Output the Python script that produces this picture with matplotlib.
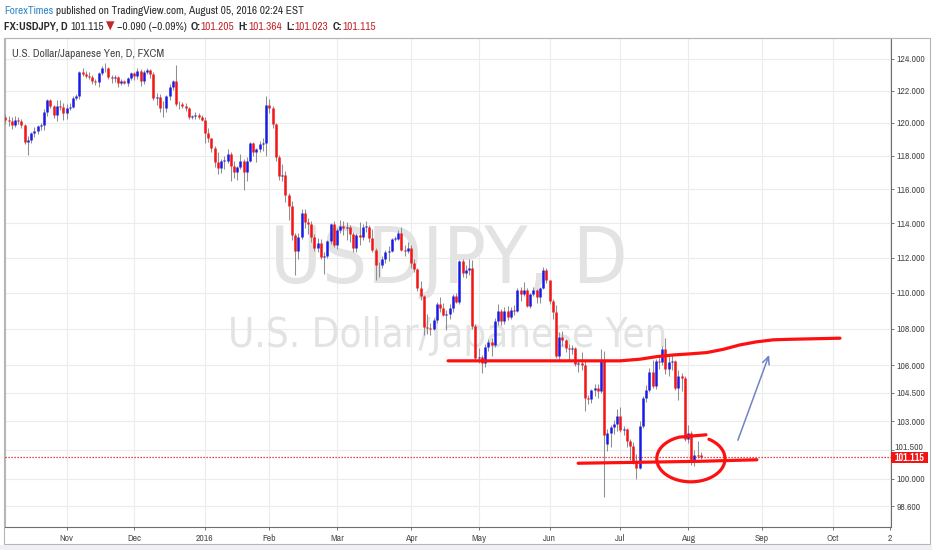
import numpy as np
import pandas as pd
import matplotlib
matplotlib.use("Agg")
import matplotlib.pyplot as plt
from matplotlib import font_manager
from matplotlib.font_manager import FontProperties
from matplotlib.textpath import TextPath
from matplotlib.patches import Rectangle
from matplotlib.ticker import FixedLocator, FixedFormatter, NullLocator
from matplotlib.transforms import blended_transform_factory, ScaledTranslation

header_1 = "published on TradingView.com, August 05, 2016 02:24 EST"

# TradingView text is narrow: pick installed regular-weight sans faces whose
# width/cap-height ratio is closest to the picture
cands = {("Liberation Sans", "normal"), ("DejaVu Sans", "normal")}
for f in font_manager.fontManager.ttflist:
    w = f.weight if isinstance(f.weight, int) else font_manager.weight_dict.get(str(f.weight), 400)
    if f.style != "normal" or w != 400:
        continue
    if "Serif" in f.name or "Mono" in f.name or "CJK" in f.name:
        continue
    if "Narrow" in f.name or "Condensed" in f.name or f.stretch in ("condensed", "semi-condensed"):
        cands.add((f.name, f.stretch))


def shape_ratio(fam, st, sample):
    fp = FontProperties(family=fam, stretch=st)
    w = TextPath((0, 0), sample, size=10, prop=fp).get_extents().width
    hc = TextPath((0, 0), "H", size=10, prop=fp).get_extents().height
    return w / hc


face, stretch = min(sorted(cands), key=lambda fs: abs(shape_ratio(*fs, "ForexTimes " + header_1) - 299 / 7.8))
# the big watermark has rounder, Arial-like letters
if ("DejaVu Sans", "condensed") in cands:
    mark_face, mark_stretch = "DejaVu Sans", "condensed"
else:
    mark_face, mark_stretch = "Liberation Sans", "normal"
plt.rcParams["font.family"] = [face, "DejaVu Sans"]
plt.rcParams["font.stretch"] = stretch

# USDJPY daily bars (FXCM), 6 Oct 2015 .. 5 Aug 2016
start_day = "2015-10-06"
no_trading = ["2015-12-25", "2016-01-01"]

opens = [
    120.35, 120.20, 120.10, 119.90, 120.20, 120.10, 119.85, 118.85, 118.95, 119.40, 119.50, 119.80, 119.85, 120.70, 121.45, 121.05, 120.50, 121.05, 121.00,
    120.60, 120.95, 121.00, 121.55, 121.70, 123.15, 123.05, 122.95, 122.85, 122.60, 122.55, 123.10, 123.40, 123.45, 122.85, 122.80, 122.85, 122.50, 122.60, 122.50, 122.80,
    123.10, 122.90, 123.25, 122.60, 123.20, 123.30, 123.05, 121.55, 121.60, 120.95, 120.90, 121.65, 122.25, 122.60, 121.20, 121.15, 121.05, 120.95, 120.35, 120.40, 120.50, 120.35,
    120.20, 119.40, 119.05, 118.50, 117.65, 117.25, 117.70, 117.70, 118.10, 117.40, 117.00, 117.30, 117.70, 117.05, 117.70, 118.75, 118.25, 118.40, 118.70, 118.75,
    121.10, 120.95, 119.95, 117.90, 116.80, 116.85, 115.65, 115.00, 113.30, 112.40, 113.20, 114.60, 114.05, 113.95, 113.20, 112.55, 112.85, 112.05, 112.10, 112.95, 113.95,
    112.70, 113.60, 113.85, 113.70, 113.80, 113.35, 112.55, 113.30, 113.20, 113.80, 113.80, 113.15, 112.45, 111.55, 111.55, 111.90, 112.35, 112.40, 113.10, 113.10, 113.45, 112.45, 112.40,
    112.55, 111.70, 111.35, 110.25, 109.80, 108.10, 108.05, 107.95, 108.50, 109.35, 109.15, 108.75, 108.80, 109.15, 109.80, 109.50, 111.80, 111.10, 111.30, 111.40, 108.15,
    106.40, 106.45, 106.10, 107.00, 107.25, 107.10, 108.40, 109.00, 108.40, 109.00, 108.65, 109.05, 109.00, 110.15, 109.95, 110.15, 109.25, 109.95, 110.15, 109.75, 110.25, 111.30,
    110.70, 109.55, 108.95, 106.50, 107.55, 107.35, 106.95, 106.85, 106.95, 106.05, 106.10, 106.00, 104.25, 104.15, 104.65, 104.75, 104.60, 106.20, 101.80, 102.40, 102.70, 102.85,
    103.25, 102.55, 102.60, 101.95, 101.70, 100.85, 100.55, 102.75, 104.20, 104.65, 105.65, 104.85, 106.20, 106.15, 106.85, 105.80, 106.15, 106.20, 104.75, 105.40, 105.30,
    102.05, 102.35, 100.85, 101.25, 101.205,
]
highs = [
    120.55, 120.40, 120.35, 120.40, 120.35, 120.25, 119.95, 119.20, 119.45, 119.75, 119.90, 120.00, 120.85, 121.50, 121.50, 121.10, 121.40, 121.45, 121.25,
    121.20, 121.25, 121.65, 121.80, 123.25, 123.45, 123.25, 123.20, 123.00, 122.75, 123.15, 123.55, 123.75, 123.50, 123.00, 123.00, 122.95, 122.75, 122.70, 122.85, 123.20,
    123.15, 123.45, 123.35, 123.30, 123.45, 123.35, 123.15, 121.85, 121.80, 121.35, 121.75, 122.40, 122.70, 123.60, 121.35, 121.30, 121.25, 121.00, 120.50, 120.70, 120.60, 120.50,
    120.35, 119.70, 119.10, 118.60, 118.25, 117.80, 118.00, 118.40, 118.25, 117.70, 117.40, 118.10, 117.80, 117.90, 118.85, 118.85, 118.50, 118.90, 119.05, 121.70,
    121.50, 121.05, 120.00, 118.05, 117.50, 117.10, 115.80, 115.30, 113.40, 113.40, 114.85, 114.85, 114.30, 114.15, 113.35, 113.15, 113.05, 112.35, 113.00, 114.00, 114.15,
    113.70, 114.20, 114.10, 114.05, 113.90, 113.50, 113.45, 114.05, 113.95, 114.10, 113.90, 113.65, 112.55, 111.75, 112.10, 112.45, 112.65, 113.15, 113.25, 113.60, 113.80, 112.70, 112.90,
    112.70, 111.90, 111.40, 110.65, 109.90, 108.80, 108.30, 108.60, 109.50, 109.75, 109.40, 109.05, 109.35, 109.95, 110.00, 111.85, 111.90, 111.55, 111.90, 111.85, 108.25,
    106.95, 106.55, 107.15, 107.40, 107.50, 108.60, 109.35, 109.10, 109.20, 109.25, 109.20, 109.30, 110.25, 110.35, 110.60, 110.25, 110.00, 110.30, 110.20, 110.35, 111.45, 111.40,
    110.75, 109.65, 109.30, 107.80, 107.85, 107.40, 107.15, 107.10, 107.00, 106.30, 106.70, 106.30, 104.40, 104.70, 105.00, 105.00, 106.85, 106.75, 102.60, 102.80, 103.05, 103.65,
    103.75, 102.75, 102.65, 102.05, 101.90, 101.30, 103.00, 104.35, 104.90, 105.85, 106.30, 106.35, 106.45, 107.05, 107.50, 106.60, 106.55, 106.30, 105.75, 105.55, 105.40,
    102.80, 102.50, 101.50, 101.95, 101.364,
]
lows = [
    119.95, 119.80, 119.65, 119.75, 119.95, 119.70, 118.70, 118.05, 118.80, 119.15, 119.30, 119.55, 119.55, 120.40, 120.90, 120.30, 120.10, 120.80, 120.20,
    120.25, 120.80, 120.90, 121.40, 121.50, 122.95, 122.80, 122.75, 122.45, 122.35, 122.25, 123.00, 123.15, 122.75, 122.50, 122.55, 122.25, 122.35, 122.40, 122.30, 122.70,
    122.70, 122.75, 122.30, 122.45, 123.05, 122.80, 121.40, 121.10, 120.65, 120.35, 120.70, 121.40, 122.05, 121.05, 120.85, 120.90, 120.75, 120.25, 120.25, 120.25, 120.25, 120.10,
    118.75, 118.85, 118.25, 117.30, 116.90, 116.95, 117.20, 117.55, 116.50, 116.65, 116.55, 117.20, 115.95, 116.50, 117.60, 118.00, 117.60, 118.20, 118.30, 118.00,
    120.60, 119.70, 117.70, 116.55, 116.50, 115.25, 114.20, 113.00, 111.00, 111.90, 113.10, 113.70, 113.35, 112.90, 112.40, 112.30, 111.90, 111.05, 111.95, 112.80, 112.60,
    112.50, 113.40, 113.30, 113.00, 112.90, 112.35, 112.35, 112.75, 113.00, 113.50, 112.90, 112.30, 110.70, 110.90, 111.40, 111.70, 111.80, 112.30, 112.95, 113.00, 112.40, 112.10, 112.25,
    111.40, 111.15, 110.10, 109.60, 107.65, 107.70, 107.65, 107.90, 108.30, 108.95, 108.70, 107.90, 108.55, 108.90, 109.40, 109.35, 110.90, 110.85, 111.00, 107.95, 106.30,
    106.10, 105.55, 105.90, 106.75, 106.50, 107.00, 108.20, 108.20, 108.25, 108.45, 108.55, 108.75, 108.90, 109.55, 109.80, 109.20, 109.15, 109.80, 109.40, 109.40, 110.20, 110.55,
    109.35, 108.55, 106.40, 106.20, 107.05, 106.70, 106.25, 106.60, 105.95, 105.65, 105.75, 103.55, 103.90, 103.95, 104.35, 104.25, 104.50, 99.05, 101.45, 101.65, 102.30, 102.50,
    102.45, 102.25, 101.65, 100.95, 100.75, 100.00, 100.50, 102.65, 104.00, 104.55, 104.75, 104.70, 105.80, 106.00, 105.50, 105.40, 105.75, 104.65, 104.10, 104.60, 101.95,
    101.85, 100.70, 100.65, 101.05, 101.023,
]
closes = [
    120.20, 120.10, 119.90, 120.20, 120.10, 119.85, 118.85, 118.95, 119.40, 119.50, 119.80, 119.85, 120.70, 121.45, 121.05, 120.50, 121.05, 121.00, 120.60,
    120.95, 121.00, 121.55, 121.70, 123.15, 123.05, 122.95, 122.85, 122.60, 122.55, 123.10, 123.40, 123.45, 122.85, 122.80, 122.85, 122.50, 122.60, 122.50, 122.80, 123.10,
    122.90, 123.25, 122.60, 123.20, 123.30, 123.05, 121.55, 121.60, 120.95, 120.90, 121.65, 122.25, 122.60, 121.20, 121.15, 121.05, 120.95, 120.35, 120.40, 120.50, 120.35, 120.20,
    119.40, 119.05, 118.50, 117.65, 117.25, 117.70, 117.70, 118.10, 117.40, 117.00, 117.30, 117.70, 117.05, 117.70, 118.75, 118.25, 118.40, 118.70, 118.75, 121.10,
    120.95, 119.95, 117.90, 116.80, 116.85, 115.65, 115.00, 113.30, 112.40, 113.20, 114.60, 114.05, 113.95, 113.20, 112.55, 112.85, 112.05, 112.10, 112.95, 113.95, 112.70,
    113.60, 113.85, 113.70, 113.80, 113.35, 112.55, 113.30, 113.20, 113.80, 113.80, 113.15, 112.45, 111.55, 111.55, 111.90, 112.35, 112.40, 113.10, 113.10, 113.45, 112.45, 112.40, 112.55,
    111.70, 111.35, 110.25, 109.80, 108.10, 108.05, 107.95, 108.50, 109.35, 109.15, 108.75, 108.80, 109.15, 109.80, 109.50, 111.80, 111.10, 111.30, 111.40, 108.15, 106.40,
    106.45, 106.10, 107.00, 107.25, 107.10, 108.40, 109.00, 108.40, 109.00, 108.65, 109.05, 109.00, 110.15, 109.95, 110.15, 109.25, 109.95, 110.15, 109.75, 110.25, 111.30, 110.70,
    109.55, 108.95, 106.50, 107.55, 107.35, 106.95, 106.85, 106.95, 106.05, 106.10, 106.00, 104.25, 104.15, 104.65, 104.75, 104.60, 106.20, 102.25, 102.40, 102.70, 102.85, 103.25,
    102.55, 102.60, 101.95, 101.70, 100.85, 100.55, 102.75, 104.20, 104.65, 105.65, 104.85, 106.20, 106.15, 106.85, 105.80, 106.15, 106.20, 104.75, 105.40, 105.30, 102.05,
    102.35, 100.85, 101.25, 101.20, 101.115,
]
last_price = 101.115
price_levels = [124, 122, 120, 118, 116, 114, 112, 110, 108, 106, 104.5, 103, 101.5, 100, 98.6]

# hand drawn marks, as (bar index, price)
resistance = [(137.5, 106.23), (190.9, 106.23), (197.1, 106.32), (202.3, 106.46), (207.4, 106.55),
              (212.6, 106.61), (217.8, 106.68), (223.0, 106.86), (228.1, 107.10), (233.3, 107.27),
              (238.5, 107.38), (243.7, 107.41), (259.2, 107.47)]
support = [(177.9, 100.80), (197.1, 100.85), (215.7, 100.90), (233.4, 100.98)]
circle_center = (212.9, 101.03)      # bar index, price
circle_size = (10.6, 0.0118)         # half width in bars, half height in log-price
circle_tail = (217.6, 102.28)
arrow_from = (227.2, 101.86)
arrow_to = (237.5, 106.7)

W, H = 932, 550
fig = plt.figure(figsize=(W / 100, H / 100), dpi=100)
fig.patch.set_facecolor("white")
ax = fig.add_axes([5 / W, (H - 527) / H, (891 - 5) / W, (527 - 38) / H])
renderer = fig.canvas.get_renderer()


def size_for(text, width_px, weight="normal", family=None, fstretch=None):
    # font size that makes `text` about width_px wide
    kw = {}
    if family:
        kw = dict(fontfamily=[family, "DejaVu Sans"], fontstretch=fstretch)
    t = fig.text(0, 0, text, fontsize=10, fontweight=weight, **kw)
    w = t.get_window_extent(renderer).width
    t.remove()
    return 10 * width_px / w


# calendar of bars (weekdays, forex holidays removed), months for the axis
days = pd.bdate_range(start_day, "2016-10-31")
days = days[~days.isin(pd.to_datetime(no_trading))]
month_pos = [i for i in range(1, len(days)) if days[i].month != days[i - 1].month]
month_lab = ["2016" if days[i].month == 1 else days[i].strftime("%b") for i in month_pos]
x_right = 275.05
month_pos.append(x_right - 0.25)
month_lab.append("2")

o, h, l, c = (np.array(v) for v in (opens, highs, lows, closes))
x = np.arange(len(c))
up = c >= o
lo_b = np.minimum(o, c)
hi_b = np.maximum(np.maximum(o, c), lo_b * 1.0004)

ax.vlines(x, l, h, color="#8f8f8f", lw=0.75, zorder=3)
ax.vlines(x[up], lo_b[up], hi_b[up], color="#1a1ae8", lw=1.8, zorder=4)
ax.vlines(x[~up], lo_b[~up], hi_b[~up], color="#f41414", lw=1.8, zorder=4)

ax.set_yscale("log")
ax.set_ylim(97.56, 125.34)
ax.set_xlim(-0.1, x_right)

# price scale; the 101.500 label sits just above the last price tag, drawn apart
tick_size = size_for("124.000", 29)
tag_hidden = 101.5
ax.yaxis.tick_right()
ax.yaxis.set_major_locator(FixedLocator(price_levels))
ax.yaxis.set_major_formatter(FixedFormatter(["" if p == tag_hidden else "%.3f" % p
                                             for p in price_levels]))
ax.yaxis.set_minor_locator(NullLocator())
ax.xaxis.set_major_locator(FixedLocator(month_pos))
ax.xaxis.set_major_formatter(FixedFormatter(month_lab))
ax.tick_params(axis="both", length=2.5, width=0.7, color="#777777",
               labelcolor="#4f4f4f", labelsize=tick_size)
ax.tick_params(axis="y", pad=1.5)
ax.tick_params(axis="x", pad=2.5)
ax.grid(True, color="#ececec", lw=0.8, zorder=0)
ax.set_axisbelow(True)
for side in ("left", "top"):
    ax.spines[side].set_color("#b8b8b8")
for side in ("right", "bottom"):
    ax.spines[side].set_color("#6e6e6e")
for s in ax.spines.values():
    s.set_linewidth(0.8)
scale = blended_transform_factory(ax.transAxes, ax.transData)
ax.text(1 + 3.9 / 886, tag_hidden, "%.3f" % tag_hidden, color="#4f4f4f", fontsize=tick_size,
        ha="left", va="center_baseline", clip_on=False, zorder=2,
        transform=scale + ScaledTranslation(0, 3.5 / 100, fig.dpi_scale_trans))

# watermark
mk = dict(fontfamily=[mark_face, "DejaVu Sans"], fontstretch=mark_stretch)
ax.text(0.501, 0.499, "USDJPY, D", transform=ax.transAxes, ha="center", va="baseline",
        fontsize=size_for("USDJPY, D", 358, family=mark_face, fstretch=mark_stretch),
        color="#e3e3e3", zorder=1, **mk)
ax.text(0.50, 0.368, "U.S. Dollar/Japanese Yen", transform=ax.transAxes, ha="center",
        va="baseline", fontsize=size_for("U.S. Dollar/Japanese Yen", 441, family=mark_face,
                                         fstretch=mark_stretch),
        color="#e3e3e3", zorder=1, **mk)

# drawings
red = "#ff1010"
for pts in (resistance, support):
    px, py = zip(*pts)
    ax.plot(px, py, color=red, lw=2.3, solid_capstyle="round", solid_joinstyle="round", zorder=6)

# the hand drawn ring around the last bars: open at the top, with a short tail
ang = np.radians(np.linspace(110, 418, 80))
ring_x = circle_center[0] + circle_size[0] * np.cos(ang)
ring_y = circle_center[1] * np.exp(circle_size[1] * np.sin(ang))
ring_x = np.concatenate([[circle_tail[0]], ring_x])
ring_y = np.concatenate([[circle_tail[1]], ring_y])
ax.plot(ring_x, ring_y, color=red, lw=2.3, solid_capstyle="round", solid_joinstyle="round", zorder=6)

ax.annotate("", xy=arrow_to, xytext=arrow_from,
            arrowprops=dict(arrowstyle="->,head_length=0.55,head_width=0.25",
                            color="#7282c4", lw=1.1), zorder=6)

# last price line and tag on the price scale
ax.axhline(last_price, color="#e01010", lw=0.9, ls=(0, (1, 1.4)), zorder=5)
ty = ax.transData.transform((0, last_price))[1]
tag = Rectangle((891 / W, (ty - 5.6) / H), 37 / W, 11.2 / H, transform=fig.transFigure,
                fc="#f01414", ec="none", zorder=10)
fig.patches.append(tag)
fig.text(909.5 / W, ty / H, "%.3f" % last_price, ha="center", va="center_baseline",
         fontsize=size_for("101.115", 30, "bold"), color="white", fontweight="bold", zorder=11)

# frame and bottom strip
fig.patches.append(Rectangle((4 / W, (H - 544) / H), 926 / W, 506 / H, transform=fig.transFigure,
                             fill=False, ec="#b5b5b5", lw=0.8, zorder=0))
fig.patches.append(Rectangle((0, 0), 1, (H - 544.5) / H, transform=fig.transFigure,
                             fc="#eef0f3", ec="none", zorder=0))


# header lines, pieces placed one after another
def write_run(parts, x0, base_y, width_px):
    def place(size, keep):
        xp, made = x0, []
        for text, color, weight, gap in parts:
            t = fig.text((xp + gap) / W, 1 - base_y / H, text, color=color, fontsize=size,
                         fontweight=weight, ha="left", va="baseline")
            made.append(t)
            xp = t.get_window_extent(renderer).x1
        if not keep:
            for t in made:
                t.remove()
        return xp - x0
    place(10 * width_px / place(10, False), True)


dark = "#2b2b2b"
val = "#c0282d"
write_run([("ForexTimes", "#2f86c8", "normal", 0), (header_1, dark, "normal", 3)],
          4, 14, 299)
write_run([("FX:USDJPY, D", dark, "bold", 0), ("101.115", dark, "normal", 3),
           ("\u25bc", val, "normal", 2), ("\u22120.090 (\u22120.09%)", dark, "normal", 2),
           ("O:", dark, "bold", 4), ("101.205", val, "normal", 0),
           ("H:", dark, "bold", 4), ("101.364", val, "normal", 0),
           ("L:", dark, "bold", 4), ("101.023", val, "normal", 0),
           ("C:", dark, "bold", 4), ("101.115", val, "normal", 0)],
          4, 29.5, 370)
fig.text(12 / W, 1 - 57 / H, "U.S. Dollar/Japanese Yen, D, FXCM", color="#444444",
         fontsize=size_for("U.S. Dollar/Japanese Yen, D, FXCM", 152), ha="left", va="baseline")

fig.savefig("out.png", dpi=100, facecolor="white")
